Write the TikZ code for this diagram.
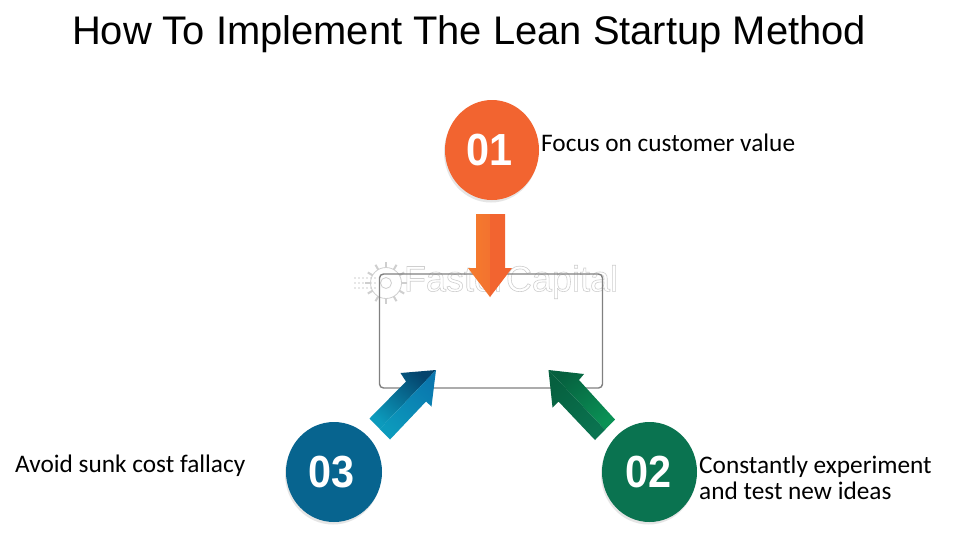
\documentclass[tikz,border=0pt]{standalone}
\usepackage{fontspec}
\setmainfont{Carlito}
\newfontfamily\headfont{Liberation Sans}
\usetikzlibrary{calc,shadings,shapes.geometric}

\definecolor{orangeC}{HTML}{F26430}
\definecolor{orangeL}{HTML}{F47C2E}
\definecolor{blueC}{HTML}{07648F}
\definecolor{blueD}{HTML}{04436C}
\definecolor{blueL}{HTML}{0C9ABC}
\definecolor{blueM}{HTML}{0A77AE}
\definecolor{greenC}{HTML}{0A7350}
\definecolor{greenD}{HTML}{06603F}
\definecolor{greenL}{HTML}{0A9155}
\definecolor{markgray}{HTML}{CFCFCF}

\tikzset{
  badge/.style={ellipse,minimum width=#1,minimum height=100pt,inner sep=0pt,text=white,
    font=\headfont\bfseries\fontsize{45}{45}\selectfont},
  badgeshadow/.style={fill=black!10},
  caption/.style={font=\fontsize{25.3}{26.5}\selectfont,align=left,inner sep=0pt,anchor=west},
}

\begin{document}
\begin{tikzpicture}[x=1pt,y=-1pt]
        \useasboundingbox (0,0) rectangle (980,558);
        \fill[white] (0,0) rectangle (980,558);

        \node[font=\headfont\fontsize{39.9}{40}\selectfont,inner sep=0pt] (title) at (469,34) {How To Implement The Lean Startup Method};

        % Watermark
        \coordinate (G) at (386,283);
        \draw[markgray,line width=0.8pt] (G) circle (5.5);
        \draw[markgray,line width=0.8pt] (G) circle (15.5);
        \foreach \a in {0,30,...,330} {
            \draw[markgray,line width=2pt] ($(G)+(\a:15.5)$) -- ($(G)+(\a:21)$);
        }
        \foreach \y in {278,283,288} {
            \foreach \x in {355,359,...,375} {
                \fill[markgray] (\x,\y) circle (0.8);
            }
        }
        \node[inner sep=0pt,font=\headfont\fontsize{36}{36}\selectfont] (mark) at (511,282)
            {\special{pdf:code 1 Tr 0.6 w 0.81 0.81 0.81 RG}FasterCapital\special{pdf:code 0 Tr}};

        % Box
        \draw[draw=black!50,line width=1.4pt,rounded corners=4] (379.5,274) rectangle (602.5,388);

        % Arrow 01
        \coordinate (T1) at (490,297);
        \coordinate (M1) at (490,214);
        \shade[left color=orangeL,right color=orangeL!60!orangeC]
            (T1) -- (468,268) -- (476,268) -- (476,214) -- (M1) -- cycle;
        \fill[orangeC] (T1) -- (512,268) -- (505,268) -- (505,214) -- (M1) -- cycle;

        % Arrow 03
        \coordinate (T3) at (436,370);
        \coordinate (M3) at ($(369.5,418.5)!.5!(390,439.5)$);
        \shade[top color=blueD,bottom color=blueL,shading angle=-40]
            (T3) -- (400.5,373) -- (406,381.5) -- (369.5,418.5) -- (M3) -- cycle;
        \shade[top color=blueM,bottom color=blueL,shading angle=-40]
            (T3) -- (431.5,406.5) -- (426,401.5) -- (390,439.5) -- (M3) -- cycle;

        % Arrow 02
        \coordinate (T2) at (548.5,370);
        \coordinate (M2) at ($(615,419.5)!.5!(595,440)$);
        \shade[top color=greenD,bottom color=greenL,shading angle=40]
            (T2) -- (584,374) -- (579,380) -- (615,419.5) -- (M2) -- cycle;
        \shade[top color=greenD,bottom color=greenC,shading angle=40]
            (T2) -- (552.5,407.5) -- (558.5,401.5) -- (595,440) -- (M2) -- cycle;

        % Circles
        \fill[badgeshadow] (491,152.5) ellipse (47 and 50);
        \fill[badgeshadow] (333,474.5) ellipse (48 and 50);
        \fill[badgeshadow] (648.5,474.5) ellipse (47.5 and 50);
        \node[badge=94pt,fill=orangeC] (one) at (492,150) {\hspace*{-5pt}\scalebox{.92}[1]{01}};
        \node[badge=96pt,fill=blueC] (three) at (334,472) {\hspace*{-4pt}\scalebox{.92}[1]{03}};
        \node[badge=95pt,fill=greenC] (two) at (649.5,472) {\hspace*{-2pt}\scalebox{.92}[1]{02}};

        \node[caption] (focus) at (541,143) {Focus on customer value};
        \node[caption] (sunk) at (15,466) {Avoid sunk cost fallacy};
        \node[caption] (test) at (699,478) {Constantly experiment\\and test new ideas};
\end{tikzpicture}
\end{document}
